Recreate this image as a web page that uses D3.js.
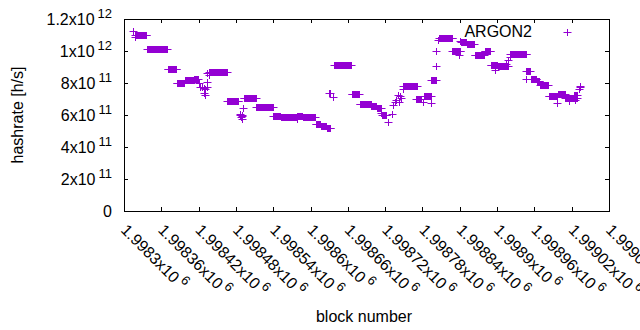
<!DOCTYPE html>
<html><head><meta charset="utf-8">
<script src="https://cdn.jsdelivr.net/npm/d3@7"></script>
<style>body{margin:0;background:#fff}svg{display:block}</style>
</head><body>
<svg id="c" width="640" height="330"></svg>
<script>
// ---- data (runs of blocks with constant estimated hashrate) ----
const runStart = [1998315,1998318,1998318,1998337,1998370,1998385,1998398,1998413,1998421,1998423,1998425,1998429,1998429,1998431,1998431,1998434,1998434,1998433,1998436,1998437,1998466,1998487,1998487,1998488,1998489,1998489,1998490,1998492,1998493,1998493,1998513,1998540,1998552,1998578,1998579,1998588,1998608,1998617,1998626,1998630,1998632,1998636,1998638,1998666,1998679,1998698,1998707,1998713,1998715,1998725,1998731,1998733,1998736,1998738,1998741,1998743,1998744,1998746,1998748,1998749,1998770,1998781,1998782,1998794,1998794,1998802,1998802,1998805,1998807,1998828,1998838,1998840,1998842,1998852,1998864,1998880,1998890,1998896,1998901,1998915,1998918,1998920,1998921,1998946,1998947,1998955,1998964,1998969,1998983,1998997,1998998,1999010,1999016,1999020,1999023,1999026,1999031,1999033,1999034];
const runEnd   = [1998315,1998318,1998336,1998369,1998384,1998397,1998412,1998419,1998421,1998423,1998425,1998429,1998429,1998431,1998431,1998434,1998434,1998433,1998436,1998465,1998484,1998487,1998487,1998488,1998489,1998489,1998490,1998492,1998493,1998512,1998539,1998551,1998578,1998578,1998587,1998607,1998616,1998625,1998632,1998630,1998632,1998636,1998665,1998678,1998697,1998706,1998713,1998713,1998722,1998725,1998731,1998733,1998736,1998738,1998741,1998743,1998744,1998746,1998748,1998771,1998778,1998781,1998793,1998794,1998801,1998802,1998802,1998805,1998828,1998841,1998838,1998840,1998850,1998863,1998879,1998889,1998900,1998896,1998917,1998915,1998918,1998920,1998947,1998946,1998953,1998963,1998968,1998982,1998996,1998997,1999009,1999022,1999016,1999028,1999028,1999026,1999031,1999033,1999034];
const runValue = [1.125e12,1.09e12,1.10e12,1.01e12,8.86e11,7.98e11,8.17e11,8.26e11,8.0e11,7.77e11,7.75e11,7.67e11,7.35e11,7.6e11,7.25e11,7.72e11,8.08e11,8.65e11,8.5e11,8.71e11,6.86e11,5.97e11,6.06e11,5.88e11,5.78e11,6.0e11,5.94e11,6.42e11,7.06e11,7.09e11,6.53e11,5.96e11,5.90e11,5.75e11,5.96e11,5.90e11,5.42e11,5.30e11,5.17e11,7.40e11,7.35e11,7.15e11,9.10e11,7.34e11,6.67e11,6.55e11,6.46e11,6.14e11,5.98e11,5.58e11,6.04e11,6.63e11,6.81e11,6.94e11,7.28e11,6.83e11,7.16e11,7.06e11,7.60e11,7.84e11,6.97e11,6.81e11,7.16e11,6.73e11,8.17e11,9.06e11,1.00e12,1.066e12,1.08e12,1.00e12,9.75e11,1.06e12,1.057e12,1.044e12,9.72e11,1.00e12,9.15e11,8.81e11,9.05e11,9.19e11,9.44e11,9.62e11,9.80e11,8.23e11,8.73e11,8.25e11,8.12e11,7.88e11,7.18e11,6.78e11,7.29e11,7.09e11,6.88e11,7.06e11,7.27e11,6.94e11,7.60e11,7.72e11,7.80e11];

const xTicks = [1998300,1998360,1998420,1998480,1998540,1998600,1998660,1998720,1998780,1998840,1998900,1998960,1999020,1999080];
const xTickMant = ["1.9983","1.99836","1.99842","1.99848","1.99854","1.9986","1.99866","1.99872","1.99878","1.99884","1.9989","1.99896","1.99902","1.99908"];
const xTickExp = ["6","6","6","6","6","6","6","6","6","6","6","6","6","6"];
const yTicks = [0,2e11,4e11,6e11,8e11,1e12,1.2e12];
const yTickMant = ["0","2x10","4x10","6x10","8x10","1x10","1.2x10"];
const yTickExp = ["","11","11","11","11","12","12"];
const seriesName = "ARGON2";

// ---- drawing ----
const W=640,H=330, L=124, R=609, T=19, B=211;
const color = "#9400d3";
const font = "'Liberation Sans', Arial, sans-serif";
const svg = d3.select("#c");
const x = d3.scaleLinear().domain([1998300,1999080]).range([L,R]);
const y = d3.scaleLinear().domain([0,1.2e12]).range([B,T]);

svg.append("rect").attr("width",W).attr("height",H).attr("fill","#fff");

// ticks (inward, mirrored)
function tickStyle(g){ g.select(".domain").remove(); g.selectAll("line").attr("stroke","#000").attr("shape-rendering","crispEdges"); g.selectAll("text").remove(); }
svg.append("g").attr("transform",`translate(0,${B})`).call(d3.axisBottom(x).tickValues(xTicks).tickSize(-4)).call(tickStyle);
svg.append("g").attr("transform",`translate(0,${T})`).call(d3.axisTop(x).tickValues(xTicks).tickSize(-4)).call(tickStyle);
svg.append("g").attr("transform",`translate(${L},0)`).call(d3.axisLeft(y).tickValues(yTicks).tickSize(-4)).call(tickStyle);
svg.append("g").attr("transform",`translate(${R},0)`).call(d3.axisRight(y).tickValues(yTicks).tickSize(-4)).call(tickStyle);

svg.append("rect").attr("x",L+0.5).attr("y",T+0.5).attr("width",R-L).attr("height",B-T)
  .attr("fill","none").attr("stroke","#000").attr("stroke-width",1);

// y tick labels
const yl = svg.append("g").attr("font-family",font).attr("font-size",16).attr("fill","#000");
yTicks.forEach((v,i)=>{
  const t = yl.append("text").attr("x",112).attr("y",y(v)+6).attr("text-anchor","end");
  t.append("tspan").text(yTickMant[i]);
  if (yTickExp[i]) t.append("tspan").attr("dx",3).attr("dy",-7).attr("font-size",13).text(yTickExp[i]);
});

// x tick labels (rotated)
const xl = svg.append("g").attr("font-family",font).attr("font-size",16).attr("fill","#000");
xTicks.forEach((v,i)=>{
  const t = xl.append("text").attr("transform",`translate(${x(v)-4},231) rotate(45)`).attr("text-anchor","start");
  t.append("tspan").text(xTickMant[i]+"x10");
  t.append("tspan").attr("dx",3).attr("dy",-7).attr("font-size",13).text(xTickExp[i]);
});

// axis titles
svg.append("text").attr("x",364).attr("y",322).attr("text-anchor","middle")
  .attr("font-family",font).attr("font-size",16).text("block number");
svg.append("text").attr("transform","translate(23,115) rotate(-90)").attr("text-anchor","middle")
  .attr("font-family",font).attr("font-size",16).text("hashrate [h/s]");

// points
const pts = [];
runStart.forEach((s,i)=>{ for(let b=s;b<=runEnd[i];b++) pts.push([b, runValue[i]]); });
function cross(px,py){ const cx=Math.round(px)+0.5, cy=Math.round(py)+0.5; return `M${cx-4},${cy}H${cx+4}M${cx},${cy-3.5}V${cy+3.5}`; }
svg.append("path").attr("d", pts.map(p=>cross(x(p[0]),y(p[1]))).join(""))
  .attr("fill","none").attr("stroke",color).attr("stroke-width",1);

// legend
svg.append("text").attr("x",532).attr("y",37).attr("text-anchor","end")
  .attr("font-family",font).attr("font-size",16).text(seriesName);
svg.append("path").attr("d",cross(567,32)).attr("fill","none").attr("stroke",color).attr("stroke-width",1);
</script>
</body></html>
